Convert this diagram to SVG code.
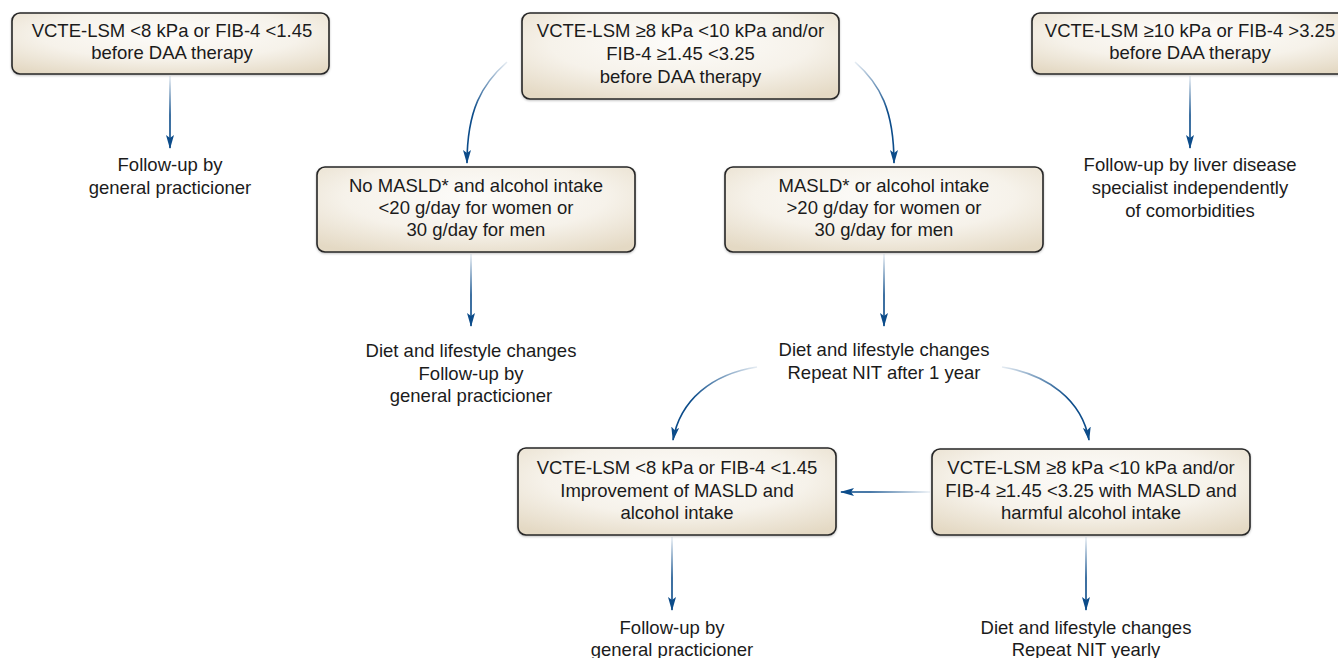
<svg xmlns="http://www.w3.org/2000/svg" width="1338" height="658" viewBox="0 0 1338 658">
<style>
.box{fill:url(#boxfill);stroke:#262626;stroke-width:1.6}
.t{font-family:"Liberation Sans",Arial,sans-serif;font-size:18.5px;fill:#1b1b1b;text-anchor:middle}
.c{fill:none;stroke-width:1.6;marker-end:url(#ah)}
</style>
<defs>
<radialGradient id="boxfill" cx="50%" cy="35%" r="75%">
<stop offset="0" stop-color="#fdfcfa"/>
<stop offset="0.55" stop-color="#f6f2ea"/>
<stop offset="1" stop-color="#e4d9c4"/>
</radialGradient>
<filter id="sh" x="-5%" y="-10%" width="110%" height="125%">
<feDropShadow dx="0" dy="1" stdDeviation="1" flood-color="#000" flood-opacity="0.25"/>
</filter>
<marker id="ah" viewBox="0 0 14 8" refX="13" refY="4" markerWidth="14" markerHeight="8" markerUnits="userSpaceOnUse" orient="auto">
<path d="M0,0 L14,4 L0,8 L3,4 Z" fill="#0c4c8a"/>
</marker>
<linearGradient id="gA" gradientUnits="userSpaceOnUse" x1="0" y1="76" x2="0" y2="115"><stop offset="0" stop-color="#0c4c8a" stop-opacity="0.08"/><stop offset="1" stop-color="#0c4c8a"/></linearGradient>
<linearGradient id="gD" gradientUnits="userSpaceOnUse" x1="0" y1="254" x2="0" y2="295"><stop offset="0" stop-color="#0c4c8a" stop-opacity="0.08"/><stop offset="1" stop-color="#0c4c8a"/></linearGradient>
<linearGradient id="gG" gradientUnits="userSpaceOnUse" x1="0" y1="537" x2="0" y2="578"><stop offset="0" stop-color="#0c4c8a" stop-opacity="0.08"/><stop offset="1" stop-color="#0c4c8a"/></linearGradient>
<linearGradient id="gBL" gradientUnits="userSpaceOnUse" x1="507" y1="62" x2="472" y2="110"><stop offset="0" stop-color="#0c4c8a" stop-opacity="0.1"/><stop offset="1" stop-color="#0c4c8a"/></linearGradient>
<linearGradient id="gBR" gradientUnits="userSpaceOnUse" x1="855" y1="62" x2="890" y2="110"><stop offset="0" stop-color="#0c4c8a" stop-opacity="0.1"/><stop offset="1" stop-color="#0c4c8a"/></linearGradient>
<linearGradient id="gEL" gradientUnits="userSpaceOnUse" x1="757" y1="367" x2="690" y2="395"><stop offset="0" stop-color="#0c4c8a" stop-opacity="0.1"/><stop offset="1" stop-color="#0c4c8a"/></linearGradient>
<linearGradient id="gER" gradientUnits="userSpaceOnUse" x1="1002" y1="367" x2="1070" y2="395"><stop offset="0" stop-color="#0c4c8a" stop-opacity="0.1"/><stop offset="1" stop-color="#0c4c8a"/></linearGradient>
<linearGradient id="gH" gradientUnits="userSpaceOnUse" x1="930" y1="0" x2="870" y2="0"><stop offset="0" stop-color="#0c4c8a" stop-opacity="0.08"/><stop offset="1" stop-color="#0c4c8a"/></linearGradient>
</defs>
<rect width="1338" height="658" fill="#ffffff"/>

<g id="connectors">
<path class="c" stroke="url(#gA)" d="M170 76 L170 148"/>
<path class="c" stroke="url(#gA)" d="M1190 76 L1190 148"/>
<path class="c" stroke="url(#gBL)" d="M507 62 C482 84 467 110 467 163"/>
<path class="c" stroke="url(#gBR)" d="M855 62 C880 84 894 110 894 163"/>
<path class="c" stroke="url(#gD)" d="M471 254 L471 326"/>
<path class="c" stroke="url(#gD)" d="M884 254 L884 326"/>
<path class="c" stroke="url(#gEL)" d="M757 367 C712 374 680 400 673 440"/>
<path class="c" stroke="url(#gER)" d="M1002 367 C1047 374 1082 400 1089 440"/>
<path class="c" stroke="url(#gH)" d="M930 492 L841 492"/>
<path class="c" stroke="url(#gG)" d="M672 537 L672 610"/>
<path class="c" stroke="url(#gG)" d="M1086 537 L1086 610"/>
</g>

<g id="box-low-before">
<rect class="box" filter="url(#sh)" x="12" y="13" width="317" height="61" rx="8"/>
<text class="t" x="172" y="37">VCTE-LSM &lt;8 kPa or FIB-4 &lt;1.45</text>
<text class="t" x="172" y="59">before DAA therapy</text>
</g>
<g id="box-mid-before">
<rect class="box" filter="url(#sh)" x="522" y="13" width="317" height="86" rx="8"/>
<text class="t" x="680.5" y="37">VCTE-LSM ≥8 kPa &lt;10 kPa and/or</text>
<text class="t" x="680.5" y="60">FIB-4 ≥1.45 &lt;3.25</text>
<text class="t" x="680.5" y="83">before DAA therapy</text>
</g>
<g id="box-high-before">
<rect class="box" filter="url(#sh)" x="1032" y="13" width="316" height="61" rx="8"/>
<text class="t" x="1190" y="37">VCTE-LSM ≥10 kPa or FIB-4 &gt;3.25</text>
<text class="t" x="1190" y="59">before DAA therapy</text>
</g>
<g id="label-gp-1">
<text class="t" x="170" y="171">Follow-up by</text>
<text class="t" x="170" y="194">general practicioner</text>
</g>
<g id="label-specialist">
<text class="t" x="1190" y="171">Follow-up by liver disease</text>
<text class="t" x="1190" y="194">specialist independently</text>
<text class="t" x="1190" y="217">of comorbidities</text>
</g>
<g id="box-no-masld">
<rect class="box" filter="url(#sh)" x="317" y="167" width="318" height="85" rx="8"/>
<text class="t" x="476" y="192">No MASLD* and alcohol intake</text>
<text class="t" x="476" y="214">&lt;20 g/day for women or</text>
<text class="t" x="476" y="236">30 g/day for men</text>
</g>
<g id="box-masld">
<rect class="box" filter="url(#sh)" x="725" y="167" width="318" height="85" rx="8"/>
<text class="t" x="884" y="192">MASLD* or alcohol intake</text>
<text class="t" x="884" y="214">&gt;20 g/day for women or</text>
<text class="t" x="884" y="236">30 g/day for men</text>
</g>
<g id="label-diet-gp">
<text class="t" x="471" y="357">Diet and lifestyle changes</text>
<text class="t" x="471" y="380">Follow-up by</text>
<text class="t" x="471" y="402">general practicioner</text>
</g>
<g id="label-diet-repeat">
<text class="t" x="884" y="356">Diet and lifestyle changes</text>
<text class="t" x="884" y="379">Repeat NIT after 1 year</text>
</g>
<g id="box-improvement">
<rect class="box" filter="url(#sh)" x="518" y="448" width="318" height="87" rx="8"/>
<text class="t" x="677" y="474">VCTE-LSM &lt;8 kPa or FIB-4 &lt;1.45</text>
<text class="t" x="677" y="496.5">Improvement of MASLD and</text>
<text class="t" x="677" y="518.5">alcohol intake</text>
</g>
<g id="box-harmful">
<rect class="box" filter="url(#sh)" x="932" y="449" width="318" height="86" rx="8"/>
<text class="t" x="1091" y="474">VCTE-LSM ≥8 kPa &lt;10 kPa and/or</text>
<text class="t" x="1091" y="496.5">FIB-4 ≥1.45 &lt;3.25 with MASLD and</text>
<text class="t" x="1091" y="518.5">harmful alcohol intake</text>
</g>
<g id="label-gp-2">
<text class="t" x="672" y="634">Follow-up by</text>
<text class="t" x="672" y="656">general practicioner</text>
</g>
<g id="label-repeat-yearly">
<text class="t" x="1086" y="634">Diet and lifestyle changes</text>
<text class="t" x="1086" y="656">Repeat NIT yearly</text>
</g>
</svg>
